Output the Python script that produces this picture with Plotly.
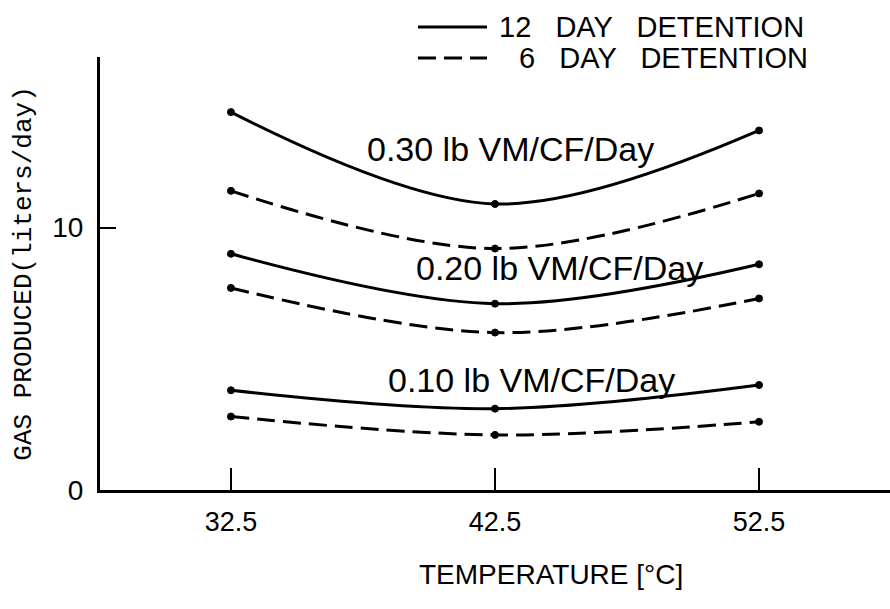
import plotly.graph_objects as go

# Digester temperature (deg C) at which gas production was measured
temperature = [32.5, 42.5, 52.5]

# Gas produced (liters/day), 12 day detention, by loading rate
gas_12day_030 = [14.4, 10.9, 13.7]
gas_12day_020 = [9.0, 7.1, 8.6]
gas_12day_010 = [3.8, 3.1, 4.0]

# Gas produced (liters/day), 6 day detention, by loading rate
gas_6day_030 = [11.4, 9.2, 11.3]
gas_6day_020 = [7.7, 6.0, 7.3]
gas_6day_010 = [2.8, 2.1, 2.6]

loading_labels = ["0.30 lb VM/CF/Day", "0.20 lb VM/CF/Day", "0.10 lb VM/CF/Day"]
label_pos_x = [43.07, 44.96, 43.9]
label_pos_y = [13.0, 8.47, 4.2]

x_ticks = [32.5, 42.5, 52.5]
x_tick_text = ["32.5", "42.5", "52.5"]
y_ticks = [0, 10]
y_tick_text = ["0", "10"]

INK = "black"
LETTER = "Liberation Sans"
DASH = "18px,8px"

fig = go.Figure()

series = [
    (gas_12day_030, "solid"),
    (gas_6day_030, DASH),
    (gas_12day_020, "solid"),
    (gas_6day_020, DASH),
    (gas_12day_010, "solid"),
    (gas_6day_010, DASH),
]

for values, dash in series:
    fig.add_trace(go.Scatter(
        x=temperature, y=values,
        mode="lines+markers",
        line=dict(color=INK, width=3, dash=dash, shape="spline", smoothing=1.0),
        marker=dict(color=INK, size=7, symbol="circle",
                    line=dict(color=INK, width=1)),
        showlegend=False,
        hoverinfo="x+y",
    ))

for text, lx, ly in zip(loading_labels, label_pos_x, label_pos_y):
    fig.add_annotation(x=lx, y=ly, text=text, showarrow=False,
                       font=dict(family=LETTER, size=34, color=INK),
                       xanchor="center", yanchor="middle")

# Key for the two detention times, above the plot area
key_rows = [("solid", "12   DAY   DETENTION", 1.0693, 0.5025),
            (DASH, "6   DAY   DETENTION", 0.9977, 0.5278)]
for dash, text, ry, tx in key_rows:
    fig.add_shape(type="line", xref="paper", yref="paper",
                  x0=0.4025, x1=0.4899, y0=ry, y1=ry,
                  line=dict(color=INK, width=3, dash=dash))
    fig.add_annotation(xref="paper", yref="paper", x=tx, y=ry,
                       text=text, showarrow=False,
                       xanchor="left", yanchor="middle",
                       font=dict(family=LETTER, size=29, color=INK))

# Temperature axis title
fig.add_annotation(xref="paper", yref="paper", x=0.571, y=-0.196,
                   text="TEMPERATURE [°C]", showarrow=False,
                   xanchor="center", yanchor="middle",
                   font=dict(family=LETTER, size=28, color=INK))

fig.update_layout(
    width=890, height=609,
    margin=dict(l=100, r=0, t=57, b=119),
    paper_bgcolor="white", plot_bgcolor="white",
    showlegend=False,
    xaxis=dict(
        range=[27.54, 57.46], showgrid=False, zeroline=False,
        showline=True, linecolor=INK, linewidth=3,
        tickmode="array", tickvals=x_ticks, ticktext=x_tick_text,
        ticks="inside", ticklen=22, tickwidth=2, tickcolor=INK,
        tickfont=dict(family=LETTER, size=27, color=INK),
        ticklabelstandoff=6,
    ),
    yaxis=dict(
        range=[0, 16.5], showgrid=False, zeroline=False,
        showline=True, linecolor=INK, linewidth=3,
        tickmode="array", tickvals=y_ticks, ticktext=y_tick_text,
        ticks="inside", ticklen=16, tickwidth=2, tickcolor=INK,
        tickfont=dict(family=LETTER, size=28, color=INK),
        ticklabelstandoff=8,
        title=dict(text="GAS PRODUCED(liters/day)",
                   font=dict(family="Liberation Mono", size=26, color=INK),
                   standoff=14),
    ),
)

fig.write_html("out.html")
